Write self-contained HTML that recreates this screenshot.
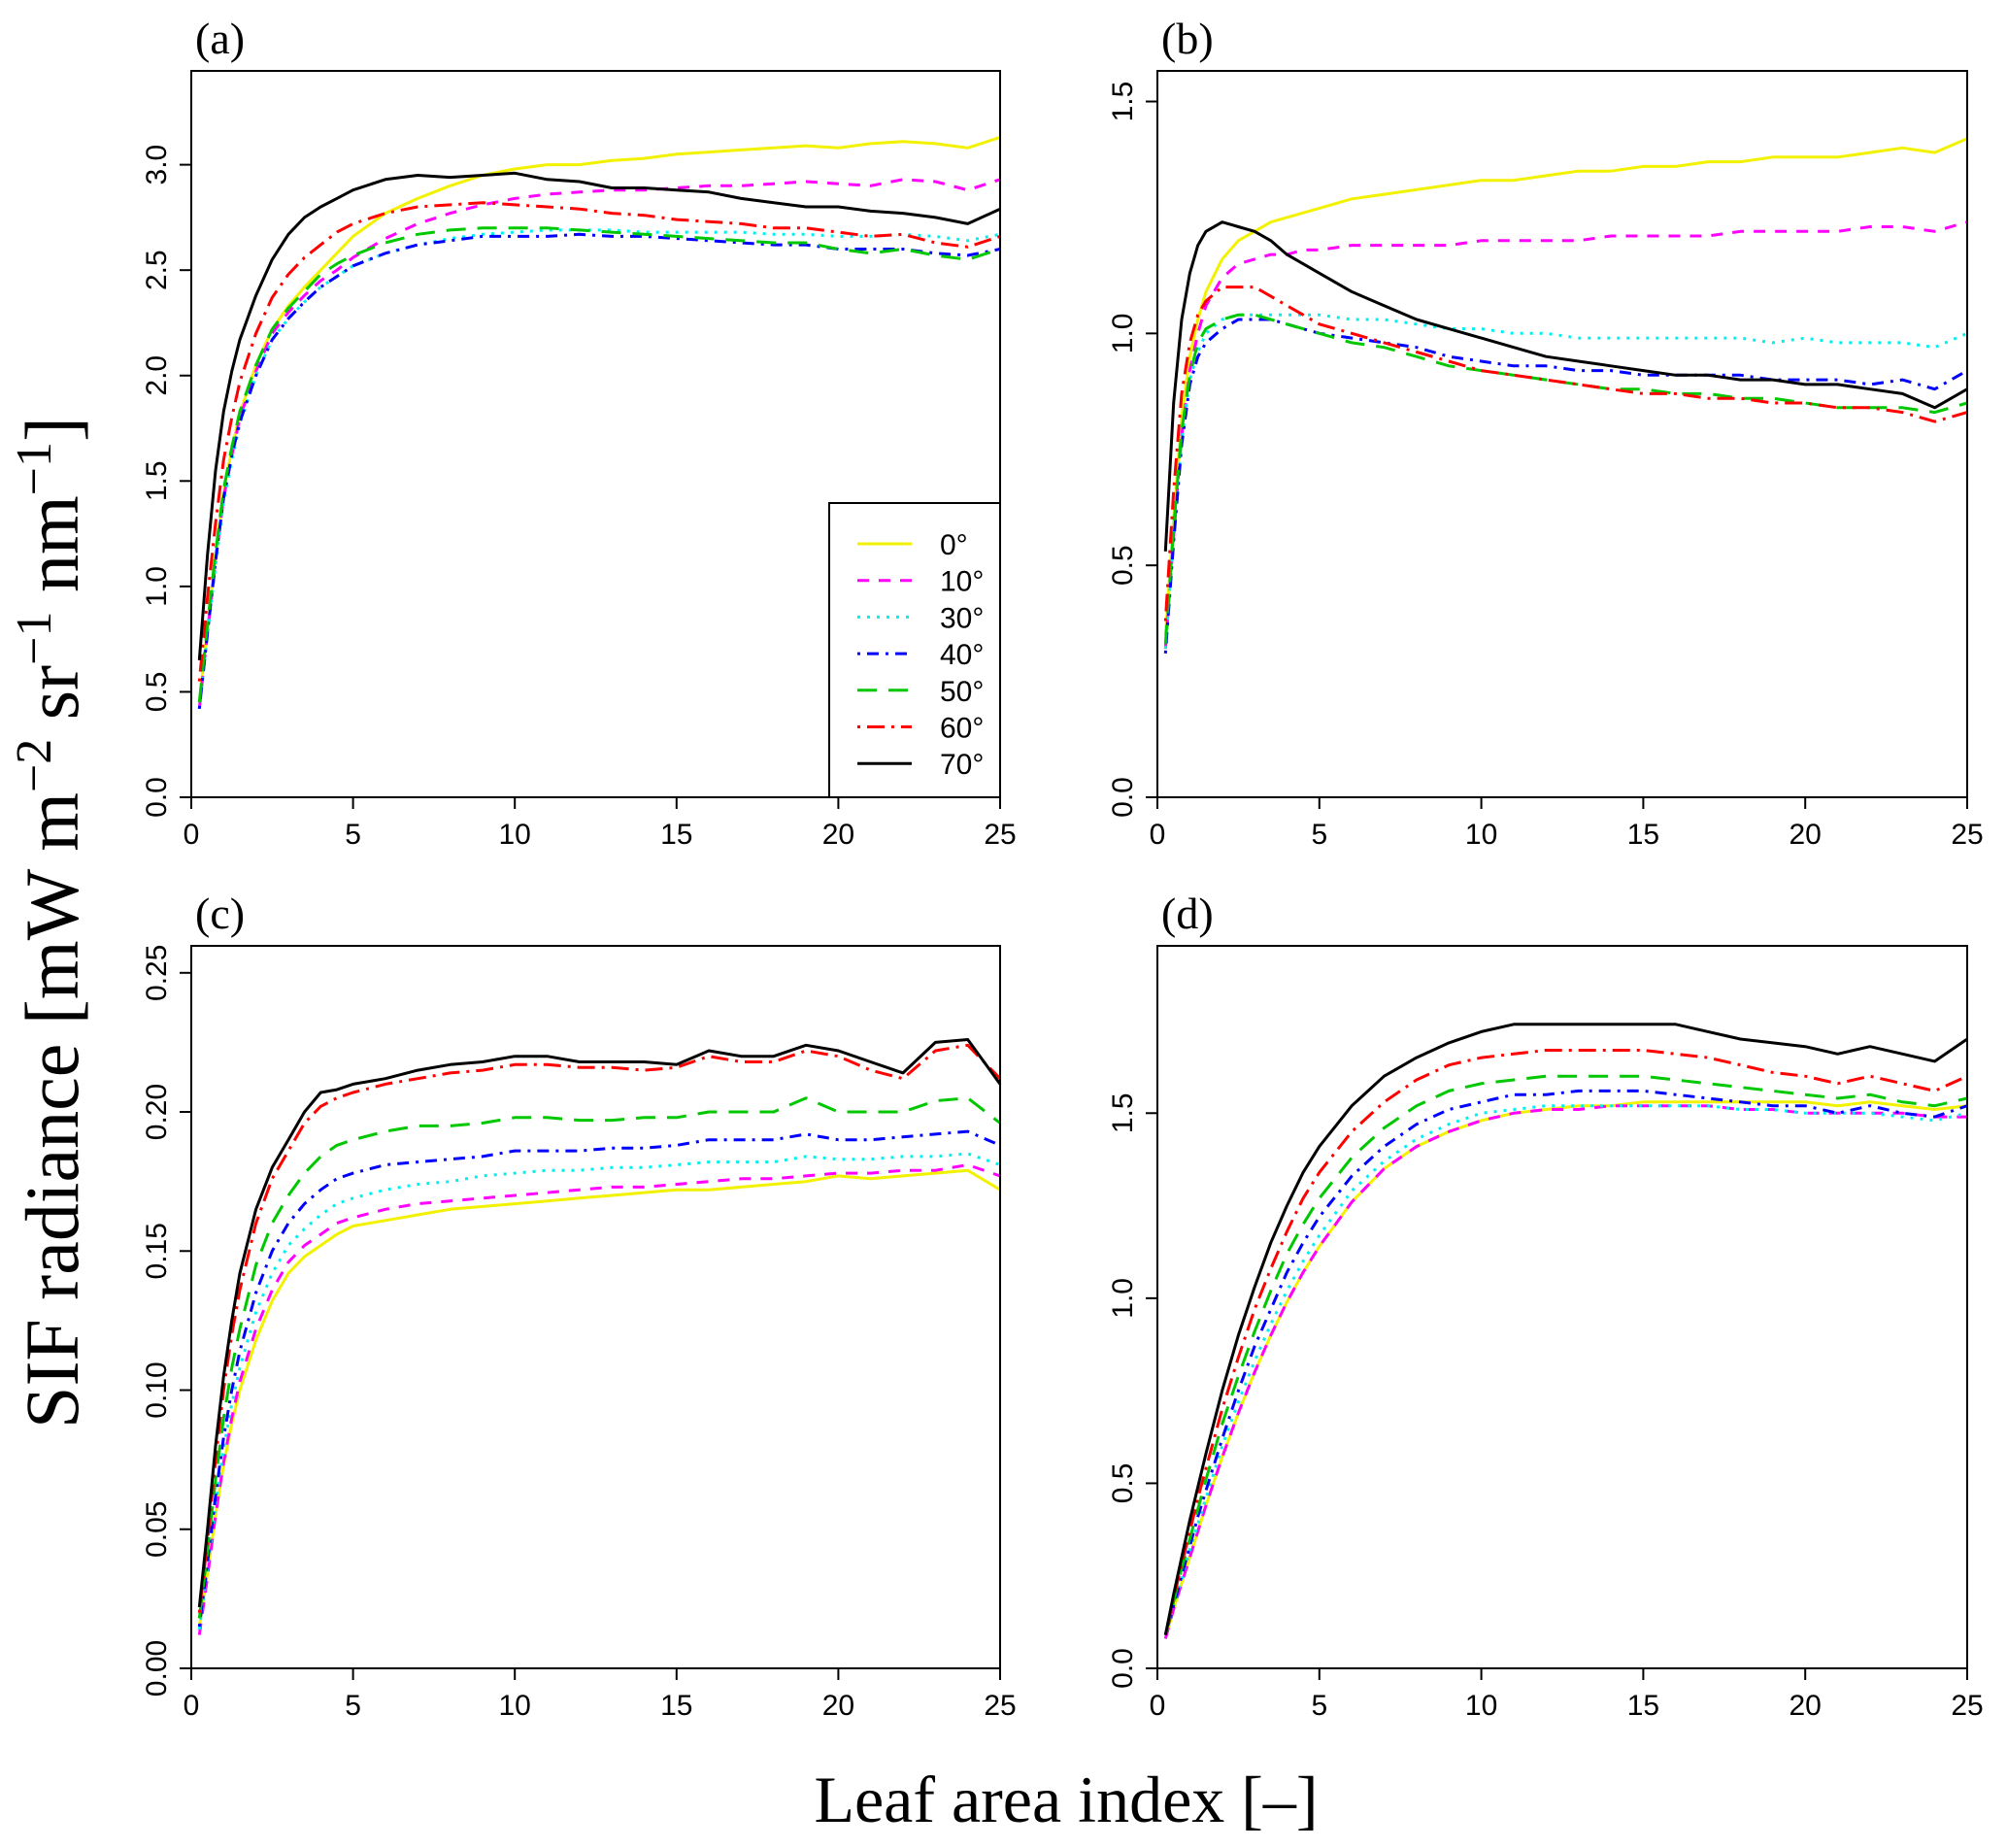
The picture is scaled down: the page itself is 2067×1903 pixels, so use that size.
<!DOCTYPE html>
<html><head><meta charset="utf-8"><style>
body{margin:0;background:#fff;}
svg{display:block;}
.tk{font-family:"Liberation Sans",sans-serif;font-size:30px;fill:#000;}
.pl{font-family:"Liberation Serif",serif;font-size:46px;fill:#000;}
.ti{font-family:"Liberation Serif",serif;fill:#000;}
</style></head><body>
<svg id="fig" width="2067" height="1903" viewBox="0 0 2067 1903" xmlns="http://www.w3.org/2000/svg">
<text class="ti" font-size="78" transform="translate(80,950) rotate(-90)" text-anchor="middle">SIF radiance [mW m<tspan dy="-28" font-size="52">−2</tspan><tspan dy="28"> sr</tspan><tspan dy="-28" font-size="52">−1</tspan><tspan dy="28"> nm</tspan><tspan dy="-28" font-size="52">−1</tspan><tspan dy="28">]</tspan></text>
<text class="ti" font-size="68" x="1098" y="1876" text-anchor="middle">Leaf area index [–]</text>
</svg>
<script>
const xs=[0.25,0.5,0.75,1,1.25,1.5,2,2.5,3,3.5,4,4.5,5,6,7,8,9,10,11,12,13,14,15,16,17,18,19,20,21,22,23,24,25];
const angles=["0°","10°","30°","40°","50°","60°","70°"];
const aY0=[0.45,0.8,1.15,1.45,1.65,1.82,2.05,2.22,2.33,2.42,2.5,2.58,2.66,2.77,2.84,2.9,2.95,2.98,3.0,3.0,3.02,3.03,3.05,3.06,3.07,3.08,3.09,3.08,3.1,3.11,3.1,3.08,3.13];
const aY10=[0.42,0.78,1.12,1.42,1.62,1.8,2.02,2.2,2.3,2.38,2.45,2.5,2.56,2.65,2.72,2.77,2.81,2.84,2.86,2.87,2.88,2.88,2.89,2.9,2.9,2.91,2.92,2.91,2.9,2.93,2.92,2.88,2.93];
const aY30=[0.42,0.77,1.1,1.4,1.6,1.77,2.0,2.17,2.27,2.35,2.42,2.47,2.52,2.58,2.62,2.65,2.67,2.68,2.69,2.69,2.69,2.68,2.68,2.68,2.68,2.67,2.67,2.66,2.66,2.67,2.66,2.64,2.67];
const aY40=[0.42,0.78,1.12,1.42,1.62,1.78,2.0,2.17,2.27,2.35,2.42,2.47,2.52,2.58,2.62,2.64,2.66,2.66,2.66,2.67,2.66,2.66,2.65,2.64,2.63,2.62,2.62,2.6,2.6,2.6,2.58,2.57,2.6];
const aY50=[0.45,0.82,1.16,1.46,1.66,1.83,2.05,2.22,2.32,2.4,2.48,2.53,2.57,2.63,2.67,2.69,2.7,2.7,2.7,2.69,2.68,2.67,2.66,2.65,2.64,2.63,2.63,2.6,2.58,2.6,2.57,2.55,2.6];
const aY60=[0.55,0.95,1.3,1.6,1.8,1.97,2.2,2.37,2.48,2.56,2.62,2.68,2.72,2.77,2.8,2.81,2.82,2.81,2.8,2.79,2.77,2.76,2.74,2.73,2.72,2.7,2.7,2.68,2.66,2.67,2.63,2.61,2.66];
const aY70=[0.65,1.15,1.55,1.83,2.02,2.17,2.38,2.55,2.67,2.75,2.8,2.84,2.88,2.93,2.95,2.94,2.95,2.96,2.93,2.92,2.89,2.89,2.88,2.87,2.84,2.82,2.8,2.8,2.78,2.77,2.75,2.72,2.79];
const bY0=[0.35,0.6,0.82,0.95,1.03,1.09,1.16,1.2,1.22,1.24,1.25,1.26,1.27,1.29,1.3,1.31,1.32,1.33,1.33,1.34,1.35,1.35,1.36,1.36,1.37,1.37,1.38,1.38,1.38,1.39,1.4,1.39,1.42];
const bY10=[0.32,0.56,0.78,0.92,1.0,1.06,1.12,1.15,1.16,1.17,1.17,1.18,1.18,1.19,1.19,1.19,1.19,1.2,1.2,1.2,1.2,1.21,1.21,1.21,1.21,1.22,1.22,1.22,1.22,1.23,1.23,1.22,1.24];
const bY30=[0.32,0.56,0.77,0.9,0.96,1.0,1.03,1.04,1.04,1.04,1.04,1.04,1.04,1.03,1.03,1.02,1.01,1.01,1.0,1.0,0.99,0.99,0.99,0.99,0.99,0.99,0.98,0.99,0.98,0.98,0.98,0.97,1.0];
const bY40=[0.31,0.55,0.76,0.89,0.95,0.98,1.01,1.03,1.03,1.03,1.02,1.01,1.0,0.99,0.98,0.97,0.95,0.94,0.93,0.93,0.92,0.92,0.91,0.91,0.91,0.91,0.9,0.9,0.9,0.89,0.9,0.88,0.92];
const bY50=[0.33,0.58,0.79,0.91,0.98,1.01,1.03,1.04,1.04,1.03,1.02,1.01,1.0,0.98,0.97,0.95,0.93,0.92,0.91,0.9,0.89,0.88,0.88,0.87,0.87,0.86,0.86,0.85,0.84,0.84,0.84,0.83,0.85];
const bY60=[0.38,0.66,0.87,0.98,1.04,1.07,1.1,1.1,1.1,1.08,1.06,1.04,1.02,1.0,0.98,0.96,0.94,0.92,0.91,0.9,0.89,0.88,0.87,0.87,0.86,0.86,0.85,0.85,0.84,0.84,0.83,0.81,0.83];
const bY70=[0.53,0.85,1.03,1.13,1.19,1.22,1.24,1.23,1.22,1.2,1.17,1.15,1.13,1.09,1.06,1.03,1.01,0.99,0.97,0.95,0.94,0.93,0.92,0.91,0.91,0.9,0.9,0.89,0.89,0.88,0.87,0.84,0.88];
const cY0=[0.015,0.034,0.055,0.073,0.088,0.1,0.118,0.132,0.142,0.148,0.152,0.156,0.159,0.161,0.163,0.165,0.166,0.167,0.168,0.169,0.17,0.171,0.172,0.172,0.173,0.174,0.175,0.177,0.176,0.177,0.178,0.179,0.172];
const cY10=[0.012,0.033,0.055,0.074,0.09,0.103,0.122,0.136,0.146,0.152,0.156,0.16,0.162,0.165,0.167,0.168,0.169,0.17,0.171,0.172,0.173,0.173,0.174,0.175,0.176,0.176,0.177,0.178,0.178,0.179,0.179,0.181,0.177];
const cY30=[0.014,0.036,0.059,0.079,0.095,0.108,0.128,0.142,0.152,0.158,0.163,0.167,0.169,0.172,0.174,0.175,0.177,0.178,0.179,0.179,0.18,0.18,0.181,0.182,0.182,0.182,0.184,0.183,0.183,0.184,0.184,0.185,0.181];
const cY40=[0.015,0.038,0.062,0.083,0.1,0.114,0.135,0.15,0.16,0.167,0.172,0.176,0.178,0.181,0.182,0.183,0.184,0.186,0.186,0.186,0.187,0.187,0.188,0.19,0.19,0.19,0.192,0.19,0.19,0.191,0.192,0.193,0.188];
const cY50=[0.018,0.042,0.068,0.09,0.108,0.122,0.145,0.16,0.17,0.178,0.184,0.188,0.19,0.193,0.195,0.195,0.196,0.198,0.198,0.197,0.197,0.198,0.198,0.2,0.2,0.2,0.205,0.2,0.2,0.2,0.204,0.205,0.196];
const cY60=[0.02,0.046,0.075,0.1,0.12,0.136,0.16,0.176,0.186,0.196,0.202,0.205,0.207,0.21,0.212,0.214,0.215,0.217,0.217,0.216,0.216,0.215,0.216,0.22,0.218,0.218,0.222,0.22,0.215,0.212,0.222,0.224,0.212];
const cY70=[0.022,0.05,0.08,0.105,0.125,0.142,0.165,0.18,0.19,0.2,0.207,0.208,0.21,0.212,0.215,0.217,0.218,0.22,0.22,0.218,0.218,0.218,0.217,0.222,0.22,0.22,0.224,0.222,0.218,0.214,0.225,0.226,0.21];
const dY0=[0.08,0.16,0.23,0.3,0.37,0.44,0.57,0.69,0.8,0.9,0.99,1.07,1.14,1.26,1.35,1.41,1.45,1.48,1.5,1.51,1.52,1.52,1.53,1.53,1.53,1.53,1.53,1.53,1.52,1.53,1.52,1.51,1.52];
const dY10=[0.08,0.16,0.23,0.3,0.37,0.44,0.57,0.69,0.8,0.9,0.99,1.07,1.14,1.26,1.35,1.41,1.45,1.48,1.5,1.51,1.51,1.52,1.52,1.52,1.52,1.51,1.51,1.5,1.5,1.5,1.5,1.49,1.49];
const dY30=[0.09,0.17,0.24,0.32,0.39,0.46,0.6,0.72,0.83,0.93,1.02,1.1,1.17,1.29,1.37,1.43,1.47,1.5,1.51,1.52,1.52,1.52,1.52,1.52,1.52,1.51,1.51,1.5,1.5,1.5,1.49,1.48,1.5];
const dY40=[0.09,0.17,0.25,0.33,0.41,0.48,0.62,0.75,0.87,0.97,1.07,1.15,1.22,1.33,1.41,1.47,1.51,1.53,1.55,1.55,1.56,1.56,1.56,1.55,1.54,1.53,1.52,1.52,1.5,1.52,1.5,1.49,1.52];
const dY50=[0.09,0.18,0.27,0.35,0.43,0.51,0.66,0.79,0.91,1.02,1.12,1.2,1.27,1.38,1.46,1.52,1.56,1.58,1.59,1.6,1.6,1.6,1.6,1.59,1.58,1.57,1.56,1.55,1.54,1.55,1.53,1.52,1.54];
const dY60=[0.09,0.19,0.28,0.37,0.46,0.54,0.7,0.84,0.97,1.08,1.18,1.27,1.34,1.45,1.53,1.59,1.63,1.65,1.66,1.67,1.67,1.67,1.67,1.66,1.65,1.63,1.61,1.6,1.58,1.6,1.58,1.56,1.6];
const dY70=[0.09,0.2,0.3,0.4,0.49,0.58,0.75,0.9,1.03,1.15,1.25,1.34,1.41,1.52,1.6,1.65,1.69,1.72,1.74,1.74,1.74,1.74,1.74,1.74,1.72,1.7,1.69,1.68,1.66,1.68,1.66,1.64,1.7];
const xTicks=[0,5,10,15,20,25];
const aTicks=["0.0","0.5","1.0","1.5","2.0","2.5","3.0"];
const bTicks=["0.0","0.5","1.0","1.5"];
const cTicks=["0.00","0.05","0.10","0.15","0.20","0.25"];
const dTicks=["0.0","0.5","1.0","1.5"];

const colors=["#f2f200","#ff00ff","#00f0f0","#0000ff","#00c800","#ff0000","#000000"];
const dashes=["","12,10","3,7","3,7,12,7","20,12","3,7,18,7",""];
const NS="http://www.w3.org/2000/svg";
const svg=document.getElementById('fig');
function mk(tag,attrs,parent){const e=document.createElementNS(NS,tag);for(const k in attrs)e.setAttribute(k,attrs[k]);(parent||svg).appendChild(e);return e;}

const panels=[
 {id:"a",x0:197,x1:1030,y0:73,y1:821,ymax:3.445,ticks:aTicks,series:[aY0,aY10,aY30,aY40,aY50,aY60,aY70],legend:true},
 {id:"b",x0:1192,x1:2026,y0:73,y1:821,ymax:1.566,ticks:bTicks,series:[bY0,bY10,bY30,bY40,bY50,bY60,bY70]},
 {id:"c",x0:197,x1:1030,y0:974,y1:1718,ymax:0.2597,ticks:cTicks,series:[cY0,cY10,cY30,cY40,cY50,cY60,cY70]},
 {id:"d",x0:1192,x1:2026,y0:974,y1:1718,ymax:1.952,ticks:dTicks,series:[dY0,dY10,dY30,dY40,dY50,dY60,dY70]}
];
panels.forEach(p=>{
 const g=mk('g',{});
 
 
 const sx=v=>p.x0+(v/25)*(p.x1-p.x0);
 const sy=v=>p.y1-(v/p.ymax)*(p.y1-p.y0);
 const lab=mk('text',{class:'pl',x:p.x0+4,y:p.y0-18},g);lab.textContent='('+p.id+')';
 
 
 p.series.forEach((s,i)=>{
  const pts=s.map((v,j)=>sx(xs[j]).toFixed(1)+','+sy(v).toFixed(1)).join(' ');
  const pl=mk('polyline',{points:pts,fill:'none',stroke:colors[i],'stroke-width':3,'stroke-linejoin':'round'},g);
  if(dashes[i])pl.setAttribute('stroke-dasharray',dashes[i]);
  
  
 });
 const box=mk('rect',{x:p.x0,y:p.y0,width:p.x1-p.x0,height:p.y1-p.y0,fill:'none',stroke:'#000','stroke-width':2},g);
 
 
 xTicks.forEach(t=>{
  mk('line',{x1:sx(t),x2:sx(t),y1:p.y1,y2:p.y1+12,stroke:'#000','stroke-width':2},g);
  const tx=mk('text',{class:'tk',x:sx(t),y:p.y1+48,'text-anchor':'middle'},g);tx.textContent=t;
  
  
 });
 p.ticks.forEach(t=>{
  const v=parseFloat(t),y=sy(v);
  mk('line',{x1:p.x0-12,x2:p.x0,y1:y,y2:y,stroke:'#000','stroke-width':2},g);
  const tx=mk('text',{class:'tk',transform:'translate('+(p.x0-26)+','+y+') rotate(-90)','text-anchor':'middle'},g);tx.textContent=t;
  
  
 });
 if(p.legend){
  const lg=mk('g',{},g);
  
  
  mk('rect',{x:854,y:518,width:176,height:303,fill:'#fff',stroke:'#000','stroke-width':2},lg);
  angles.forEach((a,i)=>{
   const y=560+i*37.7;
   const ln=mk('line',{x1:883,x2:939,y1:y,y2:y,stroke:colors[i],'stroke-width':3},lg);
   if(dashes[i])ln.setAttribute('stroke-dasharray',dashes[i]);
   const tx=mk('text',{class:'tk',x:968,y:y+11},lg);tx.textContent=a;
   
   
  });
 }
});
</script>
</body></html>
